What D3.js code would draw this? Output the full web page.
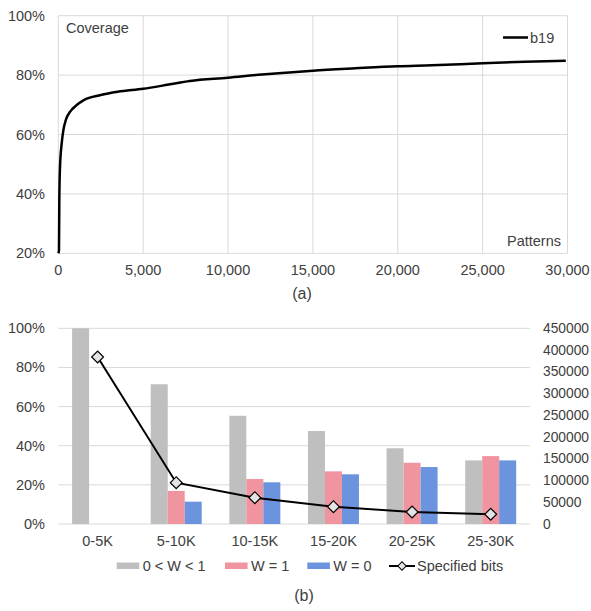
<!DOCTYPE html>
<html>
<head>
<meta charset="utf-8">
<script src="https://cdn.jsdelivr.net/npm/d3@7"></script>
<style>
  body { margin: 0; background: #fff; }
  svg text { font-family: "Liberation Sans", Arial, sans-serif; font-size: 14.5px; fill: #404040; }
</style>
</head>
<body>
<div class="graph_container"></div>
<script>
const w = 591;
const h = 611;

// (a) coverage curve
const patterns = [0, 40, 60, 100, 200, 300, 450, 700, 1100, 1500, 2500, 3500, 5000, 6500, 7750, 10000, 12000, 13600, 15000, 17500, 20000, 22000, 25000, 27500, 29900];
const coverage = [20, 21, 38, 49, 57, 61.5, 65, 67.7, 70, 71.6, 73.3, 74.4, 75.4, 76.8, 78, 79.1, 80.2, 80.9, 81.5, 82.3, 83, 83.3, 84, 84.5, 84.8];
const xTicksA = [0, 5000, 10000, 15000, 20000, 25000, 30000];
const yTicksA = [20, 40, 60, 80, 100];

// (b) grouped bars + specified bits
const ranges = ["0-5K", "5-10K", "10-15K", "15-20K", "20-25K", "25-30K"];
const seriesNames = ["0 < W < 1", "W = 1", "W = 0"];
const partial = [100, 71.4, 55.3, 47.5, 38.7, 32.5];
const wOne = [0, 16.9, 23, 26.9, 31.3, 34.7];
const wZero = [0, 11.4, 21.3, 25.4, 29.1, 32.5];
const specifiedBits = [384000, 95000, 60500, 39800, 27600, 22300];
const yTicksB = [0, 20, 40, 60, 80, 100];
const y2TicksB = [0, 50000, 100000, 150000, 200000, 250000, 300000, 350000, 400000, 450000];
const colors = ["#bfbfbf", "#f0959f", "#6b93de"];

const svg = d3.select(".graph_container").append("svg").attr("width", w).attr("height", h);
const grid = "#d9d9d9";

// ---------- chart (a) ----------
var xA = d3.scaleLinear().domain([0, 30000]).range([58.3, 567.5]);
var yA = d3.scaleLinear().domain([20, 100]).range([253.3, 15.7]);

svg.append("g").selectAll("line").data(xTicksA).enter().append("line")
  .attr("x1", d => xA(d)).attr("x2", d => xA(d))
  .attr("y1", yA(20)).attr("y2", yA(100))
  .attr("stroke", grid).attr("stroke-width", 1);
svg.append("g").selectAll("line").data(yTicksA).enter().append("line")
  .attr("x1", xA(0)).attr("x2", xA(30000))
  .attr("y1", d => yA(d)).attr("y2", d => yA(d))
  .attr("stroke", grid).attr("stroke-width", 1);

svg.append("g").selectAll("text").data(yTicksA).enter().append("text")
  .attr("x", 45).attr("y", d => yA(d) + 5)
  .attr("text-anchor", "end")
  .text(d => d + "%");
svg.append("g").selectAll("text").data(xTicksA).enter().append("text")
  .attr("x", d => xA(d)).attr("y", 275)
  .attr("text-anchor", "middle")
  .text(d3.format(","));

var line = d3.line().x((d, i) => xA(patterns[i])).y(d => yA(d)).curve(d3.curveMonotoneX);
svg.append("path").datum(coverage)
  .attr("d", line)
  .attr("fill", "none").attr("stroke", "#000").attr("stroke-width", 2.5);

svg.append("text").attr("x", 66).attr("y", 33).text("Coverage");
svg.append("text").attr("x", 561).attr("y", 245.5).attr("text-anchor", "end").text("Patterns");
svg.append("line").attr("x1", 503).attr("x2", 528).attr("y1", 37.5).attr("y2", 37.5)
  .attr("stroke", "#000").attr("stroke-width", 2.5);
svg.append("text").attr("x", 530).attr("y", 42.5).text("b19");
svg.append("text").attr("x", 302).attr("y", 299).attr("text-anchor", "middle")
  .style("font-size", "16px").text("(a)");

// ---------- chart (b) ----------
var x0 = d3.scaleBand().domain(ranges).range([58.3, 530]);
var x1 = d3.scaleBand().domain(seriesNames).range([0, 51]);
var off = (x0.bandwidth() - 51) / 2;
var yB = d3.scaleLinear().domain([0, 100]).range([524, 328.3]);
var yB2 = d3.scaleLinear().domain([0, 450000]).range([524, 328.3]);

svg.append("g").selectAll("line").data(yTicksB).enter().append("line")
  .attr("x1", 58.3).attr("x2", 530)
  .attr("y1", d => yB(d)).attr("y2", d => yB(d))
  .attr("stroke", grid).attr("stroke-width", 1);

svg.append("g").selectAll("text").data(yTicksB).enter().append("text")
  .attr("x", 45).attr("y", d => yB(d) + 5)
  .attr("text-anchor", "end")
  .text(d => d + "%");
svg.append("g").selectAll("text").data(y2TicksB).enter().append("text")
  .attr("x", 543).attr("y", d => yB2(d) + 4.5)
  .style("font-size", "13.8px")
  .text(d => d);
svg.append("g").selectAll("text").data(ranges).enter().append("text")
  .attr("x", d => x0(d) + x0.bandwidth() / 2).attr("y", 546)
  .attr("text-anchor", "middle")
  .text(d => d);

const barSeries = [partial, wOne, wZero];
barSeries.forEach((vals, s) => {
  svg.append("g").selectAll("rect").data(vals).enter().append("rect")
    .attr("x", (d, i) => x0(ranges[i]) + off + x1(seriesNames[s]))
    .attr("width", x1.bandwidth())
    .attr("y", d => yB(d))
    .attr("height", d => yB(0) - yB(d))
    .attr("fill", colors[s]);
});

var bitsLine = d3.line().x((d, i) => x0(ranges[i]) + x0.bandwidth() / 2).y(d => yB2(d));
svg.append("path").datum(specifiedBits)
  .attr("d", bitsLine)
  .attr("fill", "none").attr("stroke", "#000").attr("stroke-width", 2);

var diamond = d3.symbol().type(d3.symbolSquare).size(70);
svg.append("g").selectAll("path").data(specifiedBits).enter().append("path")
  .attr("d", diamond)
  .attr("transform", (d, i) => "translate(" + (x0(ranges[i]) + x0.bandwidth() / 2) + "," + yB2(d) + ") rotate(45)")
  .attr("fill", "#e4e4e4").attr("stroke", "#000").attr("stroke-width", 1.2);

// legend
var legendX = [116.7, 225, 307.3];
seriesNames.forEach((name, s) => {
  svg.append("rect").attr("x", legendX[s]).attr("y", 562.5).attr("width", 22.6).attr("height", 6.5)
    .attr("fill", colors[s]);
  svg.append("text").attr("x", legendX[s] + 26).attr("y", 570.5).text(name);
});
svg.append("line").attr("x1", 389).attr("x2", 415).attr("y1", 566).attr("y2", 566)
  .attr("stroke", "#000").attr("stroke-width", 2);
svg.append("path").attr("d", d3.symbol().type(d3.symbolSquare).size(36))
  .attr("transform", "translate(402,566) rotate(45)")
  .attr("fill", "#e4e4e4").attr("stroke", "#000").attr("stroke-width", 1);
svg.append("text").attr("x", 417).attr("y", 570.5).text("Specified bits");

svg.append("text").attr("x", 304).attr("y", 601).attr("text-anchor", "middle")
  .style("font-size", "16px").text("(b)");
</script>
</body>
</html>
